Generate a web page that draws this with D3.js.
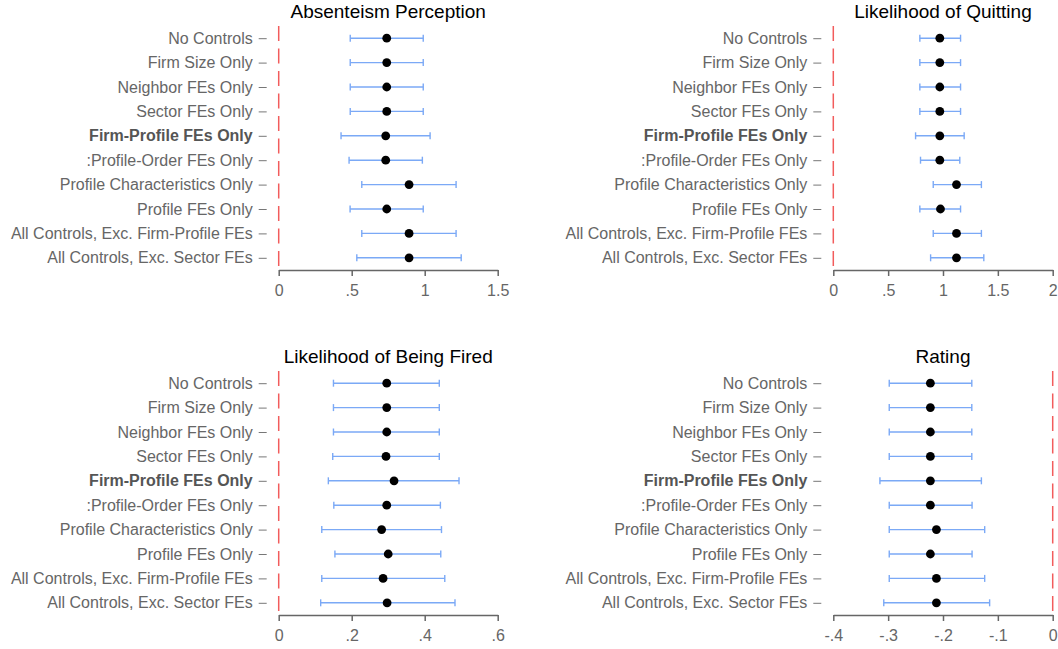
<!DOCTYPE html>
<html>
<head>
<meta charset="utf-8">
<script src="https://cdn.jsdelivr.net/npm/d3@7"></script>
<style>
  body { margin: 0; background: #fff; }
  svg { font-family: "Liberation Sans", Arial, sans-serif; }
  .ylab text { fill: #666; font-size: 16px; }
  .ylab line { stroke: #777; }
  .xaxis text { fill: #666; font-size: 16px; }
  .xaxis line, .xaxis path { stroke: #666; stroke-width: 1.5; }
  .title { font-size: 19px; fill: #000; }
</style>
</head>
<body>
<svg id="chart" width="1058" height="649"></svg>
<script>
(function () {
  'use strict';

  var specs = [
    'No Controls',
    'Firm Size Only',
    'Neighbor FEs Only',
    'Sector FEs Only',
    'Firm-Profile FEs Only',
    ':Profile-Order FEs Only',
    'Profile Characteristics Only',
    'Profile FEs Only',
    'All Controls, Exc. Firm-Profile FEs',
    'All Controls, Exc. Sector FEs'
  ];
  var boldSpec = 'Firm-Profile FEs Only';

  // point estimates and 95% CI bounds, one entry per spec
  var absentEst = [0.74, 0.74, 0.74, 0.74, 0.733, 0.733, 0.893, 0.74, 0.893, 0.893];
  var absentLo  = [0.49, 0.49, 0.49, 0.49, 0.427, 0.482, 0.569, 0.489, 0.569, 0.535];
  var absentHi  = [0.99, 0.99, 0.99, 0.99, 1.037, 0.984, 1.215, 0.99, 1.215, 1.25];

  var quitEst = [0.971, 0.971, 0.971, 0.971, 0.971, 0.971, 1.123, 0.977, 1.123, 1.123];
  var quitLo  = [0.789, 0.789, 0.789, 0.789, 0.75, 0.795, 0.911, 0.789, 0.911, 0.887];
  var quitHi  = [1.16, 1.16, 1.16, 1.16, 1.193, 1.153, 1.35, 1.16, 1.35, 1.372];

  var firedEst = [0.296, 0.296, 0.296, 0.294, 0.316, 0.296, 0.282, 0.300, 0.286, 0.297];
  var firedLo  = [0.150, 0.150, 0.150, 0.148, 0.136, 0.151, 0.118, 0.154, 0.118, 0.115];
  var firedHi  = [0.440, 0.440, 0.440, 0.440, 0.494, 0.443, 0.446, 0.444, 0.455, 0.483];

  var ratingEst = [-0.223, -0.223, -0.223, -0.223, -0.223, -0.223, -0.212, -0.223, -0.212, -0.212];
  var ratingLo  = [-0.298, -0.298, -0.298, -0.298, -0.315, -0.298, -0.298, -0.298, -0.298, -0.308];
  var ratingHi  = [-0.1475, -0.1475, -0.1475, -0.1475, -0.130, -0.147, -0.124, -0.147, -0.124, -0.115];

  var absentTicks = [0, 0.5, 1, 1.5];
  var quitTicks = [0, 0.5, 1, 1.5, 2];
  var firedTicks = [0, 0.2, 0.4, 0.6];
  var ratingTicks = [-0.4, -0.3, -0.2, -0.1, 0];

  var panels = [
    { title: 'Absenteism Perception', est: absentEst, lo: absentLo, hi: absentHi,
      ticks: absentTicks, x0: 278.7, x1: 497.7, y0: 26, y1: 270 },
    { title: 'Likelihood of Quitting', est: quitEst, lo: quitLo, hi: quitHi,
      ticks: quitTicks, x0: 833.3, x1: 1052.7, y0: 26, y1: 270 },
    { title: 'Likelihood of Being Fired', est: firedEst, lo: firedLo, hi: firedHi,
      ticks: firedTicks, x0: 278.7, x1: 497.7, y0: 371, y1: 615 },
    { title: 'Rating', est: ratingEst, lo: ratingLo, hi: ratingHi,
      ticks: ratingTicks, x0: 833.3, x1: 1052.7, y0: 371, y1: 615 }
  ];

  var svg = d3.select('#chart');

  // ".5" / "-.4" style, no leading zero
  function tickFmt (d) {
    if (d === 0) return '0';
    return String(d).replace(/^(-?)0\./, '$1.');
  }

  panels.forEach(drawPanel);

  function drawPanel (p) {
    var x = d3.scaleLinear()
        .domain(d3.extent(p.ticks))
        .range([p.x0, p.x1]);

    var y = d3.scaleBand()
        .domain(specs)
        .range([p.y0, p.y1])
        .padding(0);

    var rows = specs.map(function (s, i) {
      return { spec: s, est: p.est[i], lo: p.lo[i], hi: p.hi[i] };
    });

    var g = svg.append('g');

    // title
    g.append('text')
        .attr('class', 'title')
        .attr('x', (p.x0 + p.x1) / 2)
        .attr('y', p.y0 - 8)
        .attr('text-anchor', 'middle')
        .text(p.title);

    // left labels with little dashes
    var yAxis = d3.axisLeft(y).tickSize(8).tickPadding(6);
    var yg = g.append('g')
        .attr('class', 'ylab')
        .attr('transform', 'translate(' + (p.x0 - 12) + ',0.5)')
        .call(yAxis);
    yg.select('.domain').remove();
    yg.selectAll('text')
        .attr('font-weight', function (d) { return d === boldSpec ? 'bold' : null; })
        .style('fill', function (d) { return d === boldSpec ? '#555' : null; });

    // bottom axis
    var xAxis = d3.axisBottom(x)
        .tickValues(p.ticks)
        .tickFormat(tickFmt)
        .tickSize(6)
        .tickSizeOuter(0)
        .tickPadding(9);
    g.append('g')
        .attr('class', 'xaxis')
        .attr('transform', 'translate(0,' + p.y1 + ')')
        .call(xAxis);

    // zero reference line
    g.append('line')
        .attr('x1', x(0)).attr('x2', x(0))
        .attr('y1', p.y0).attr('y2', p.y1)
        .attr('stroke', '#f25c5c')
        .attr('stroke-width', 1.5)
        .attr('stroke-dasharray', '15,7.5');

    var bars = g.append('g').selectAll('g')
        .data(rows)
      .enter().append('g')
        .attr('transform', function (d) {
          return 'translate(0,' + (y(d.spec) + y.bandwidth() / 2) + ')';
        });

    bars.append('line')
        .attr('x1', function (d) { return x(d.lo); })
        .attr('x2', function (d) { return x(d.hi); })
        .attr('stroke', '#7ba9f6')
        .attr('stroke-width', 1.4);

    ['lo', 'hi'].forEach(function (k) {
      bars.append('line')
          .attr('x1', function (d) { return x(d[k]); })
          .attr('x2', function (d) { return x(d[k]); })
          .attr('y1', -3.5).attr('y2', 3.5)
          .attr('stroke', '#7ba9f6')
          .attr('stroke-width', 1.4);
    });

    bars.append('circle')
        .attr('cx', function (d) { return x(d.est); })
        .attr('r', 4.4)
        .attr('fill', '#000');
  }
})();
</script>
</body>
</html>
